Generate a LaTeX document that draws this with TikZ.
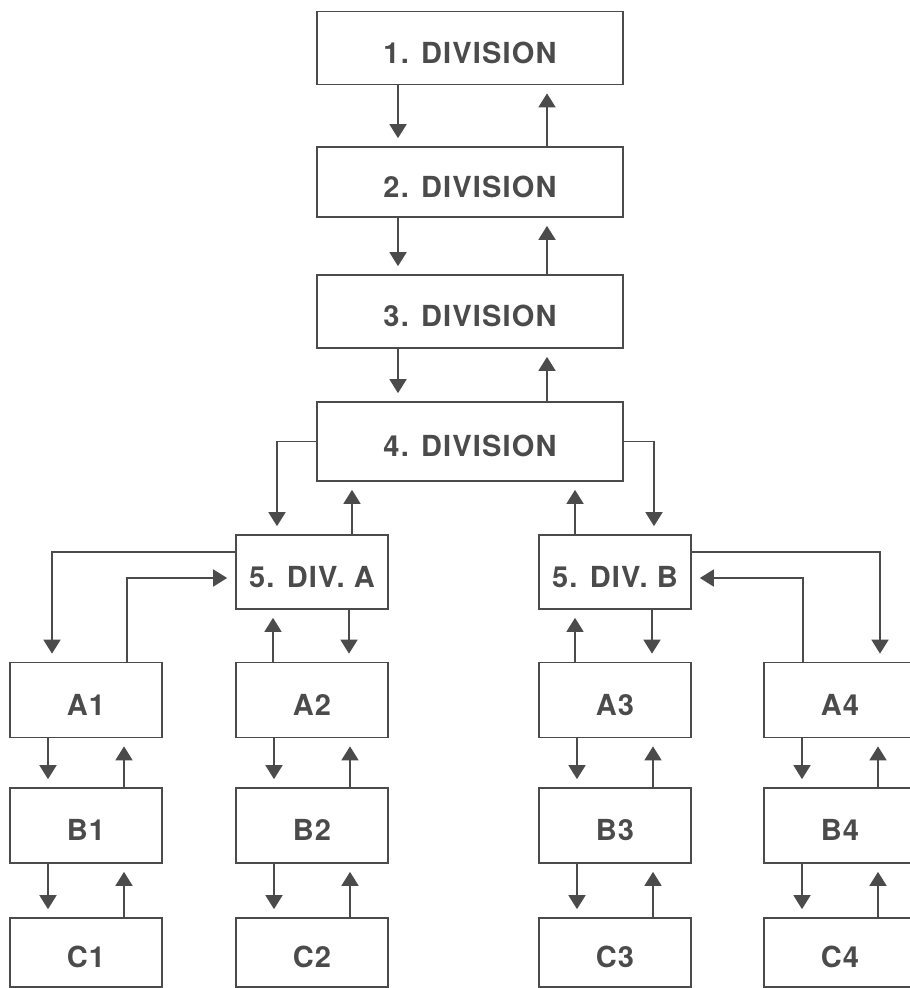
\documentclass[tikz,border=0pt]{standalone}
\usepackage{fontspec}
\newfontfamily\divfont{TeX Gyre Heros}[LetterSpace=4.0]
\usepackage{xcolor}
\usepackage{tikz}
\usetikzlibrary{arrows.meta,calc}
\definecolor{ink}{HTML}{4B4B4B}

\begin{document}
\begin{tikzpicture}[x=1pt, y=-1pt, line width=1.7pt, ink,
    box/.style={draw=ink, text=ink, inner sep=0pt, minimum height=73pt,
        text height=30pt, text depth=0pt,
        font=\divfont\fontsize{29}{34}\selectfont\bfseries},
    wide/.style={box, minimum width=306pt},
    unit/.style={box, minimum width=152pt},
    arr/.style={-{Triangle[width=17pt,length=14pt]}, shorten >=8pt}]

    %page
    \path[use as bounding box, fill=white] (0,0) rectangle (910,988);

    %divisions
    \node[wide] (D1) at (470,48) {1. DIVISION};
    \node[wide, minimum height=70pt] (D2) at (470,182) {2. DIVISION};
    \node[wide] (D3) at (470,311.5) {3. DIVISION};
    \node[wide, minimum height=79pt] (D4) at (470,441.5) {4. DIVISION};
    \node[unit, minimum height=74pt] (DA) at (312,572) {5. DIV. A};
    \node[unit, minimum height=74pt] (DB) at (615,572) {5. DIV. B};

    %columns
    \foreach \n/\x in {1/86,2/312,3/615,4/840}{
        \node[unit, minimum height=75pt] (A\n) at (\x,700) {A\n};
        \node[unit, minimum height=75pt] (B\n) at (\x,825.5) {B\n};
        \node[unit, minimum height=69pt] (C\n) at (\x,952.5) {C\n};
        \draw[arr] ([xshift=-38pt]A\n.south) -- ([xshift=-38pt]B\n.north);
        \draw[arr] ([xshift=38pt]B\n.north) -- ([xshift=38pt]A\n.south);
        \draw[arr] ([xshift=-38pt]B\n.south) -- ([xshift=-38pt]C\n.north);
        \draw[arr] ([xshift=38pt]C\n.north) -- ([xshift=38pt]B\n.south);
    }

    %main chain
    \foreach \u/\l in {D1/D2,D2/D3,D3/D4}{
        \draw[arr] ([xshift=-72pt]\u.south) -- ([xshift=-72pt]\l.north);
        \draw[arr] ([xshift=77pt]\l.north) -- ([xshift=77pt]\u.south);
    }

    %4. division to 5. div
    \draw[arr] (D4.west) -| ([xshift=-35pt]DA.north);
    \draw[arr] ([xshift=40pt]DA.north) -- ([xshift=40pt]DA.north |- D4.south);
    \draw[arr] (D4.east) -| ([xshift=39pt]DB.north);
    \draw[arr] ([xshift=-40pt]DB.north) -- ([xshift=-40pt]DB.north |- D4.south);

    %5. div. A
    \draw[arr] ([yshift=20pt]DA.west) -| ([xshift=-34pt]A1.north);
    \draw[arr] ([xshift=41pt]A1.north) |- ([yshift=-6pt]DA.west);
    \draw[arr] ([xshift=37pt]DA.south) -- ([xshift=37pt]A2.north);
    \draw[arr] ([xshift=-39pt]A2.north) -- ([xshift=-39pt]DA.south);

    %5. div. B
    \draw[arr] ([xshift=37pt]DB.south) -- ([xshift=37pt]A3.north);
    \draw[arr] ([xshift=-40pt]A3.north) -- ([xshift=-40pt]DB.south);
    \draw[arr] ([yshift=20pt]DB.east) -| ([xshift=40pt]A4.north);
    \draw[arr] ([xshift=-37pt]A4.north) |- ([yshift=-6pt]DB.east);

\end{tikzpicture}
\end{document}
